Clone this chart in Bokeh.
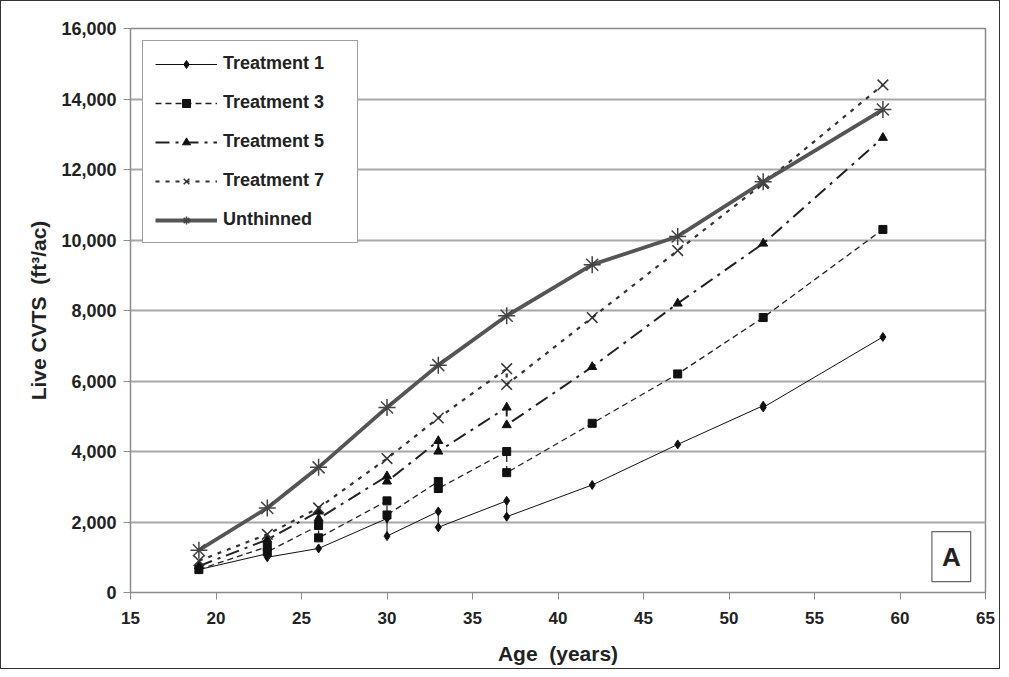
from bokeh.plotting import figure
from bokeh.models import Range1d, FixedTicker, NumeralTickFormatter, Label, Legend
from bokeh.embed import file_html
from bokeh.resources import INLINE

# ---- data ----
t1_age = [19, 23, 23, 26, 30, 30, 33, 33, 37, 37, 42, 47, 52, 52, 59]
t1_vol = [650, 1100, 1000, 1250, 2100, 1600, 2300, 1850, 2600, 2150, 3050, 4200, 5300, 5250, 7250]

t3_age = [19, 23, 23, 26, 26, 30, 30, 33, 33, 37, 37, 42, 47, 52, 59]
t3_vol = [650, 1300, 1150, 1900, 1550, 2600, 2200, 3150, 2950, 4000, 3400, 4800, 6200, 7800, 10300]

t5_age = [19, 23, 26, 26, 30, 30, 33, 33, 37, 37, 42, 47, 52, 59]
t5_vol = [750, 1500, 2300, 2100, 3300, 3150, 4300, 4000, 5250, 4750, 6400, 8200, 9900, 12900]

t7_age = [19, 23, 26, 30, 33, 37, 37, 42, 47, 52, 59]
t7_vol = [900, 1650, 2400, 3800, 4950, 6350, 5900, 7800, 9700, 11600, 14400]

un_age = [19, 23, 26, 30, 33, 37, 42, 47, 52, 59]
un_vol = [1200, 2400, 3550, 5250, 6450, 7850, 9300, 10100, 11650, 13700]

x_ticks = [15, 20, 25, 30, 35, 40, 45, 50, 55, 60, 65]
y_ticks = [0, 2000, 4000, 6000, 8000, 10000, 12000, 14000, 16000]

FONT = "Liberation Sans"
TXT = "#222222"

p = figure(width=1000, height=669, output_backend="svg", toolbar_location=None,
           x_range=Range1d(15, 65), y_range=Range1d(0, 16000),
           min_border_left=129, min_border_right=16, min_border_top=27, min_border_bottom=78)
p.styles = {"border": "1px solid #333333", "box-sizing": "border-box"}

p.outline_line_color = "#8a8a8a"
p.outline_line_width = 1.5
p.xgrid.grid_line_color = None
p.ygrid.grid_line_color = "#a8a8a8"
p.ygrid.grid_line_width = 2

p.xaxis.ticker = FixedTicker(ticks=x_ticks)
p.yaxis.ticker = FixedTicker(ticks=y_ticks)
p.yaxis.formatter = NumeralTickFormatter(format="0,0")
for ax in (p.xaxis[0], p.yaxis[0]):
    ax.axis_line_color = "#8a8a8a"
    ax.major_tick_line_color = "#8a8a8a"
    ax.major_tick_out = 7
    ax.major_tick_in = 0
    ax.minor_tick_line_color = None
    ax.major_label_text_font = FONT
    ax.major_label_text_font_style = "bold"
    ax.major_label_text_color = TXT
    ax.axis_label_text_font = FONT
    ax.axis_label_text_font_style = "bold"
    ax.axis_label_text_font_size = "21px"
    ax.axis_label_text_color = TXT
p.xaxis.major_label_text_font_size = "17px"
p.yaxis.major_label_text_font_size = "18px"
p.xaxis.axis_label = "Age\u00a0 (years)"
p.yaxis.axis_label = "Live CVTS\u00a0 (ft\u00b3/ac)"
p.xaxis.major_label_standoff = 12
p.yaxis.major_label_standoff = 7
p.xaxis.axis_label_standoff = 15
p.yaxis.axis_label_standoff = 8

items = []
# Treatment 1
l1 = p.line(t1_age, t1_vol, line_color="#111111", line_width=1)
m1 = p.scatter(t1_age, t1_vol, marker="diamond", size=9, color="#111111")
items.append(("Treatment 1", [l1, m1]))
# Treatment 3
l3 = p.line(t3_age, t3_vol, line_color="#222222", line_width=1.3, line_dash="6 4")
m3 = p.scatter(t3_age, t3_vol, marker="square", size=8, color="#111111")
items.append(("Treatment 3", [l3, m3]))
# Treatment 5
l5 = p.line(t5_age, t5_vol, line_color="#222222", line_width=2, line_dash="14 6 3 6")
m5 = p.scatter(t5_age, t5_vol, marker="triangle", size=9, color="#111111")
items.append(("Treatment 5", [l5, m5]))
# Treatment 7
l7 = p.line(t7_age, t7_vol, line_color="#333333", line_width=2.2, line_dash="4 6")
m7 = p.scatter(t7_age, t7_vol, marker="x", size=15, line_color="#333333", line_width=1.5)
items.append(("Treatment 7", [l7, m7]))
# Unthinned
lu = p.line(un_age, un_vol, line_color="#555555", line_width=3.8)
mu = p.scatter(un_age, un_vol, marker="asterisk", size=17, line_color="#444444", line_width=1.5)
items.append(("Unthinned", [lu, mu]))

legend = Legend(items=items, location="top_left")
legend.margin = 12
legend.padding = 12
legend.spacing = 18
legend.glyph_width = 62
legend.glyph_height = 20
legend.label_standoff = 6
legend.label_width = 122
legend.label_text_font = FONT
legend.label_text_font_style = "bold"
legend.label_text_font_size = "18px"
legend.label_text_color = TXT
legend.border_line_color = "#444444"
legend.border_line_width = 1.5
legend.background_fill_color = "white"
legend.background_fill_alpha = 1
p.add_layout(legend, "center")

lab = Label(x=63.0, y=1020, text="A", text_align="center", text_baseline="middle",
            text_font=FONT, text_font_style="bold", text_font_size="26px", text_color=TXT,
            border_line_color="#666666", border_line_width=1.2,
            background_fill_color="white", padding=10)
p.add_layout(lab)

open("out.html", "w").write(file_html(p, INLINE))
